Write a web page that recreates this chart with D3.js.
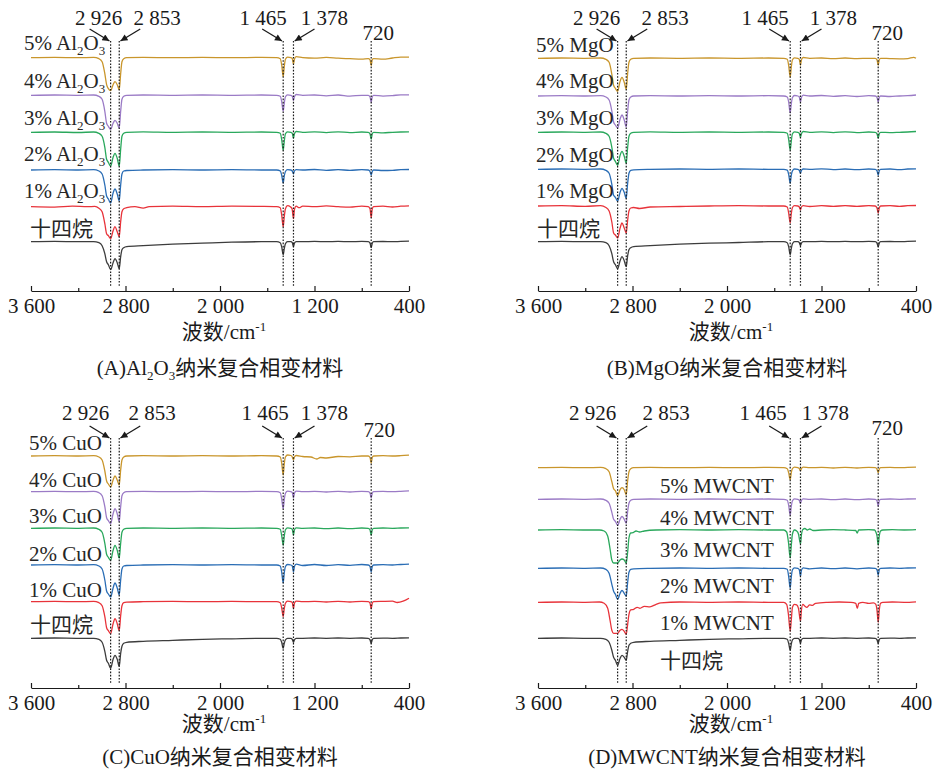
<!DOCTYPE html>
<html><head><meta charset="utf-8">
<script src="https://cdn.jsdelivr.net/npm/d3@7"></script>
<style>body{margin:0;background:#fff}svg{display:block}</style>
</head><body>
<svg id="chart" width="941" height="774"></svg>
<script>
// ---- axis ticks and band markers (wavenumber, cm^-1) ----
const majorTicks = [3600, 2800, 2000, 1200, 400];
const minorTicks = [3200, 2400, 1600, 800];
const tickLabels = ["3 600", "2 800", "2 000", "1 200", "400"];
const bandPositions = [2926, 2853, 1465, 1378, 720];
const bandLabels = ["2 926", "2 853", "1 465", "1 378", "720"];

// ---- sample names ----
const panelTags = ["A", "B", "C", "D"];
const additives = ["Al2O3", "MgO", "CuO", "MWCNT"];
const pureName = "十四烷";
const loadings = ["1%", "2%", "3%", "4%", "5%"];
const captionSuffix = "纳米复合相变材料";
const axisTitle = "波数/cm";

// series order: tetradecane, 1%, 2%, 3%, 4%, 5%
const seriesColors = ["#3d3d3d", "#e8333a", "#2a6db5", "#2aa85c", "#9b7bc6", "#c9962c"];

// ---- stacking offsets of each spectrum (a.u.) ----
const offsetsA = [49.3, 84.3, 121.0, 158.7, 195.7, 233.3];
const offsetsB = [49.3, 85.0, 121.7, 158.7, 195.0, 232.7];
const offsetsC = [49.7, 86.3, 123.0, 159.7, 196.3, 232.0];
const offsetsD = [49.7, 85.7, 119.7, 158.0, 188.7, 220.3];

// ---- spectra: [wavenumber, relative transmittance] ----
// (A) Al2O3 composites
const specA0 = [[3600,0],[3400,0.3],[3200,0],[3070,0],[3025,-1],[2998,-4],[2975,-12],[2960,-20],[2945,-23],[2926,-28],[2905,-21],[2889,-17],[2870,-21],[2853,-27],[2841,-15],[2830,-8],[2815,-6],[2790,-5],[2650,-4],[2400,-2.5],[2150,-1.5],[1900,-0.5],[1650,0],[1520,0],[1490,-1],[1478,-5],[1465,-13],[1456,-7],[1446,-2],[1428,0],[1400,0],[1388,-1],[1378,-5],[1370,-1.5],[1355,0],[1300,0],[1200,0.3],[1100,0],[1000,0.3],[900,0],[800,0.3],[745,0],[730,-1.5],[720,-6],[711,-1.5],[700,0],[620,0.2],[540,0],[470,0.3],[400,0.5]];
const specA1 = [[3600,0],[3400,-0.4],[3250,0.5],[3120,0],[3060,0.3],[3025,-1.5],[2998,-5],[2975,-17],[2960,-27],[2945,-29],[2926,-32],[2905,-24],[2889,-20],[2870,-25],[2853,-30],[2841,-15],[2830,-5],[2815,-2],[2790,-1],[2720,0],[2650,-1.5],[2600,0],[2400,0.5],[2150,0],[1900,0.5],[1650,0.3],[1520,0],[1490,-1],[1478,-8],[1465,-20],[1456,-10],[1446,-2],[1428,1],[1405,0],[1390,-2],[1378,-12],[1370,-3],[1355,0.5],[1330,-1],[1300,0.5],[1200,0],[1100,0.8],[1000,0],[900,-0.5],[800,0.5],[745,0],[730,-2],[720,-11],[711,-2],[700,0],[620,0.5],[540,-0.3],[470,0.5],[400,0.8]];
const specA2 = [[3600,0],[3400,0.3],[3200,0],[3070,0.3],[3025,-1],[2998,-4],[2975,-15],[2960,-26],[2945,-29],[2926,-33],[2905,-23],[2889,-19],[2870,-24],[2853,-31],[2841,-15],[2830,-4],[2815,-1],[2790,-0.5],[2650,0],[2400,0.3],[2150,0],[1900,0.3],[1650,0],[1520,0],[1490,-0.8],[1478,-5],[1465,-13],[1456,-6],[1446,-1.5],[1428,0.3],[1400,0],[1388,-1],[1378,-4],[1370,-1],[1355,0.3],[1300,0],[1200,0.5],[1100,-0.3],[1000,0.3],[900,-0.3],[800,0.3],[745,0],[730,-1.5],[720,-5],[711,-1.5],[700,0],[620,-0.5],[540,-0.3],[470,0.3],[400,0.5]];
const specA3 = [[3600,0],[3400,0.3],[3200,-0.2],[3070,0.3],[3025,-1],[2998,-4],[2975,-15],[2960,-27],[2945,-30],[2926,-34],[2905,-25],[2889,-21],[2870,-26],[2853,-34],[2841,-17],[2830,-4],[2815,-1],[2790,0],[2650,0.5],[2400,0],[2150,0.3],[1900,0],[1650,0.3],[1520,0],[1490,-1],[1478,-7],[1465,-18],[1456,-9],[1446,-1.5],[1428,0.5],[1400,0],[1388,-1],[1378,-6],[1370,-1.5],[1355,0.8],[1300,0],[1200,0.5],[1100,-0.3],[1000,0.5],[900,-0.3],[800,0.3],[745,0],[730,-1.5],[720,-7],[711,-1.5],[700,0],[620,-0.5],[540,0],[470,0.3],[400,0.5]];
const specA4 = [[3600,0],[3400,0.3],[3200,0],[3070,0.3],[3025,-1],[2998,-4],[2975,-16],[2960,-28],[2945,-31],[2926,-34],[2905,-28],[2889,-25],[2870,-28],[2853,-33],[2841,-16],[2830,-4],[2815,-1],[2790,0],[2650,0.3],[2400,0],[2150,0.3],[1900,0],[1650,0.3],[1520,0],[1490,-1],[1478,-6],[1465,-16],[1456,-8],[1446,-1.5],[1428,0.5],[1400,0],[1388,-1],[1378,-5],[1370,-1.5],[1355,0.8],[1300,0],[1200,0.3],[1100,-0.5],[1000,0.3],[900,-0.8],[800,0],[745,0],[730,-1.5],[720,-7],[711,-1.5],[700,0],[620,-0.8],[540,-0.3],[470,0.5],[400,0.5]];
const specA5 = [[3600,0],[3400,0.3],[3200,0],[3070,0.3],[3025,-1],[2998,-4],[2975,-16],[2960,-27],[2945,-31],[2926,-33],[2905,-27],[2889,-24],[2870,-27],[2853,-32],[2841,-16],[2830,-4],[2815,-1],[2790,0],[2650,0.3],[2400,0],[2150,0.3],[1900,0],[1650,0.3],[1520,0],[1490,-1],[1478,-7],[1465,-19],[1456,-9],[1446,-1.5],[1428,0.5],[1400,0],[1388,-1],[1378,-6.5],[1370,-1.5],[1355,1],[1300,0],[1200,-0.5],[1100,0.3],[1000,-0.5],[900,-1],[800,-1.5],[745,-1],[730,-2],[720,-8],[711,-2],[700,-1],[620,-1.5],[540,-0.3],[470,0.5],[400,0.5]];

// (B) MgO composites
const specB0 = [[3600,0],[3400,0.3],[3200,0],[3070,0],[3025,-1],[2998,-4],[2975,-12],[2960,-20],[2945,-23],[2926,-27],[2905,-19],[2889,-15],[2870,-19],[2853,-25],[2841,-14],[2830,-8],[2815,-6],[2790,-5],[2650,-4],[2400,-2.5],[2150,-1.5],[1900,-0.8],[1650,0],[1520,0],[1490,-1],[1478,-5],[1465,-13],[1456,-7],[1446,-2],[1428,0],[1400,0],[1388,-1],[1378,-4],[1370,-1.5],[1355,0],[1300,0],[1200,0.3],[1100,0],[1000,0.3],[900,0],[800,0.3],[745,0],[730,-1.5],[720,-5],[711,-1.5],[700,0],[620,0.2],[540,0],[470,0.3],[400,0.5]];
const specB1 = [[3600,0],[3400,0.3],[3200,-0.3],[3070,0.3],[3025,-1.5],[2998,-5],[2975,-16],[2960,-27],[2945,-29],[2926,-32],[2905,-22],[2889,-17],[2870,-22],[2853,-27],[2841,-14],[2830,-5],[2815,-2],[2790,-1.5],[2740,-2.5],[2650,-1],[2400,-0.5],[2150,0],[1900,0.3],[1650,0],[1520,0],[1490,-1],[1478,-7],[1465,-17],[1456,-8],[1446,-1.5],[1428,0.3],[1400,0],[1388,-1],[1378,-4],[1370,-1],[1355,0.3],[1300,-0.5],[1200,0.3],[1100,-0.3],[1000,0.3],[900,-0.3],[800,0.3],[745,0],[730,-2],[720,-7],[711,-2],[700,0],[620,0.3],[540,-0.3],[470,0.3],[400,0.5]];
const specB2 = [[3600,0],[3400,0.3],[3200,0],[3070,0.3],[3025,-1],[2998,-4],[2975,-15],[2960,-26],[2945,-28],[2926,-32],[2905,-23],[2889,-19],[2870,-23],[2853,-29],[2841,-14],[2830,-4],[2815,-1],[2790,-0.5],[2650,0],[2400,0.3],[2150,0],[1900,0.3],[1650,0],[1520,0],[1490,-0.8],[1478,-5],[1465,-14],[1456,-6],[1446,-1.5],[1428,0.3],[1400,0],[1388,-1],[1378,-4],[1370,-1],[1355,0.3],[1300,0],[1200,0.5],[1100,-0.3],[1000,0.3],[900,-0.3],[800,0.3],[745,0],[730,-1.5],[720,-6],[711,-1.5],[700,0],[620,0.3],[540,-0.3],[470,0.3],[400,0.5]];
const specB3 = [[3600,0],[3400,0.3],[3200,0],[3070,0.3],[3025,-1],[2998,-4],[2975,-15],[2960,-26],[2945,-29],[2926,-33],[2905,-23],[2889,-19],[2870,-24],[2853,-31],[2841,-15],[2830,-4],[2815,-1],[2790,0],[2650,0.5],[2400,0],[2150,0.3],[1900,0],[1650,0.3],[1520,0],[1490,-1],[1478,-7],[1465,-18],[1456,-9],[1446,-1.5],[1428,0.5],[1400,0],[1388,-1],[1378,-5],[1370,-1.5],[1355,0.8],[1300,0],[1200,0.5],[1100,-0.3],[1000,0.5],[900,-0.3],[800,0.3],[745,0],[730,-1.5],[720,-6],[711,-1.5],[700,0],[620,-0.3],[540,0],[470,0.3],[400,0.8]];
const specB4 = [[3600,0],[3400,0.3],[3200,0],[3070,0.3],[3025,-1],[2998,-4],[2975,-15],[2960,-26],[2945,-29],[2926,-32],[2905,-23],[2889,-19],[2870,-24],[2853,-31],[2841,-15],[2830,-4],[2815,-1],[2790,0],[2650,0.3],[2400,0],[2150,0.3],[1900,0],[1650,0.3],[1520,0],[1490,-1],[1478,-6],[1465,-17],[1456,-8],[1446,-1.5],[1428,0.5],[1400,0],[1388,-1],[1378,-6],[1370,-1.5],[1355,0.8],[1300,0],[1200,0.5],[1100,-0.3],[1000,0.3],[900,-0.5],[800,0.3],[745,0],[730,-1.5],[720,-6],[711,-1.5],[700,0],[620,-0.5],[540,0],[470,0.3],[400,1]];
const specB5 = [[3600,0],[3400,0.3],[3200,0],[3070,0.3],[3025,-1],[2998,-4],[2975,-16],[2960,-27],[2945,-30],[2926,-33],[2905,-23],[2889,-19],[2870,-24],[2853,-31],[2841,-15],[2830,-4],[2815,-1],[2790,0],[2650,0.3],[2400,0],[2150,0.3],[1900,0],[1650,0.3],[1520,0],[1490,-1],[1478,-7],[1465,-19],[1456,-9],[1446,-1.5],[1428,0.5],[1400,0],[1388,-1],[1378,-7],[1370,-1.5],[1355,0.8],[1300,0],[1200,0.3],[1100,-0.3],[1000,0.3],[900,-0.3],[800,0],[745,0],[730,-1.5],[720,-7],[711,-1.5],[700,0],[620,-0.3],[540,-0.5],[470,-0.3],[420,1],[400,0]];

// (C) CuO composites
const specC0 = [[3600,0],[3400,0.3],[3200,0],[3070,0],[3025,-1],[2998,-4],[2975,-13],[2960,-22],[2945,-25],[2926,-30],[2905,-21],[2889,-17],[2870,-21],[2853,-28],[2841,-15],[2830,-8],[2815,-5],[2790,-4],[2650,-3],[2400,-2],[2150,-1],[1900,-0.5],[1650,0],[1520,0],[1490,-1],[1478,-4],[1465,-10],[1456,-5],[1446,-1.5],[1428,0],[1400,0],[1388,-1],[1378,-4],[1370,-1.5],[1355,0],[1300,0],[1200,0.3],[1100,0],[1000,0.3],[900,0],[800,0.3],[745,0],[730,-1.5],[720,-5],[711,-1.5],[700,0],[620,0.2],[540,0],[470,0.3],[400,0.5]];
const specC1 = [[3600,0],[3400,0.3],[3200,0],[3070,0.3],[3025,-1],[2998,-4],[2975,-15],[2960,-26],[2945,-29],[2926,-32],[2905,-22],[2889,-17],[2870,-22],[2853,-29],[2841,-14],[2830,-4],[2815,-1],[2790,-0.5],[2650,0],[2400,0.3],[2150,0],[1900,0.3],[1650,0],[1520,0],[1490,-1],[1478,-6],[1465,-15],[1456,-7],[1446,-1.5],[1428,0.5],[1400,0],[1388,-1],[1378,-7],[1370,-1.5],[1355,0.5],[1300,0],[1200,0.3],[1100,-0.3],[1000,0.3],[900,-0.3],[800,0.3],[745,0],[730,-1.5],[720,-7],[711,-1.5],[700,0],[620,0.3],[540,0.5],[500,-0.8],[450,0.5],[400,3.5]];
const specC2 = [[3600,0],[3400,0.3],[3200,0],[3070,0.3],[3025,-1],[2998,-4],[2975,-15],[2960,-26],[2945,-29],[2926,-32],[2905,-23],[2889,-18],[2870,-23],[2853,-30],[2841,-15],[2830,-4],[2815,-1],[2790,-0.5],[2650,0],[2400,0.3],[2150,0],[1900,0.3],[1650,0],[1520,0],[1490,-1],[1478,-7],[1465,-18],[1456,-8],[1446,-1.5],[1428,0.5],[1400,0],[1388,-1],[1378,-7],[1370,-1.5],[1355,0.8],[1300,-0.5],[1200,0.5],[1100,-0.5],[1000,0.3],[900,-0.3],[800,0.5],[745,0],[730,-1.5],[720,-7],[711,-1.5],[700,0],[620,0.3],[540,0],[470,0.5],[400,0.8]];
const specC3 = [[3600,0],[3400,0.3],[3200,0],[3070,0.3],[3025,-1],[2998,-4],[2975,-15],[2960,-26],[2945,-29],[2926,-32],[2905,-22],[2889,-17],[2870,-22],[2853,-30],[2841,-15],[2830,-4],[2815,-1],[2790,0],[2650,0.3],[2400,0],[2150,0.3],[1900,0],[1650,0.3],[1520,0],[1490,-1],[1478,-7],[1465,-17],[1456,-8],[1446,-1.5],[1428,0.5],[1400,0],[1388,-1],[1378,-7],[1370,-1.5],[1355,0.5],[1300,0],[1200,0.3],[1100,-0.3],[1000,0.3],[900,-0.3],[800,0.3],[745,0],[730,-1.5],[720,-7],[711,-1.5],[700,0],[620,0.3],[540,0],[470,0.3],[400,0.5]];
const specC4 = [[3600,0],[3400,0.3],[3200,0],[3070,0.3],[3025,-1],[2998,-4],[2975,-15],[2960,-26],[2945,-29],[2926,-32],[2905,-22],[2889,-17],[2870,-22],[2853,-30],[2841,-15],[2830,-4],[2815,-1],[2790,0],[2650,0.3],[2400,0],[2150,0.3],[1900,0],[1650,0.3],[1520,0],[1490,-1],[1478,-7],[1465,-17],[1456,-8],[1446,-1.5],[1428,0.5],[1400,0],[1388,-1],[1378,-6],[1370,-1.5],[1355,0.5],[1300,0],[1200,0.3],[1100,-0.3],[1000,0.3],[900,-0.3],[800,0.3],[745,0],[730,-1.5],[720,-6],[711,-1.5],[700,0],[620,0.3],[540,0],[470,0.3],[400,0.8]];
const specC5 = [[3600,0],[3400,0.3],[3200,0],[3070,0.3],[3025,-1],[2998,-4],[2975,-15],[2960,-25],[2945,-28],[2926,-31],[2905,-24],[2889,-20],[2870,-24],[2853,-29],[2841,-14],[2830,-4],[2815,-1],[2790,0],[2650,0.3],[2400,0],[2150,0.3],[1900,0],[1650,0.3],[1520,0],[1490,-1],[1478,-7],[1465,-19],[1456,-8],[1446,-1],[1428,1],[1400,0.5],[1388,-1],[1378,-4],[1370,-1],[1355,0.5],[1300,-0.5],[1230,-1],[1181,-3],[1150,-1.5],[1100,-2],[1000,-0.5],[900,-0.8],[800,0],[745,0],[730,-1.5],[720,-7],[711,-1.5],[700,0],[620,0.3],[540,0],[470,0.3],[400,0.8]];

// (D) MWCNT composites
const specD0 = [[3600,0],[3400,0.3],[3200,0],[3070,0],[3025,-1],[2998,-4],[2975,-12],[2960,-19],[2945,-22],[2926,-27],[2905,-20],[2889,-17],[2870,-19],[2853,-22],[2841,-13],[2830,-7],[2815,-5],[2790,-4],[2650,-3],[2400,-2],[2150,-1],[1900,-0.5],[1650,0],[1520,0],[1490,-1],[1478,-5],[1465,-12],[1456,-6],[1446,-1.5],[1428,0],[1400,0],[1388,-1],[1378,-5],[1370,-1.5],[1355,0],[1300,0],[1200,0.3],[1100,0],[1000,0.3],[900,0],[800,0.3],[745,0],[730,-1.5],[720,-5],[711,-1.5],[700,0],[620,0.2],[540,0],[470,0.3],[400,0.5]];
const specD1 = [[3600,0],[3400,0.3],[3200,0],[3080,0.3],[3040,-1],[3010,-6],[2990,-18],[2975,-28],[2960,-31],[2945,-31],[2926,-31],[2905,-28],[2889,-27],[2870,-29],[2853,-32],[2841,-22],[2830,-12],[2815,-7.5],[2790,-7],[2760,-5],[2737,-6],[2700,-4],[2652,-4.5],[2600,-2],[2560,-0.5],[2400,0.3],[2150,0],[1900,0.3],[1650,0],[1520,0],[1495,-2],[1480,-12],[1465,-29],[1456,-18],[1446,-5],[1430,-2],[1410,-2.5],[1395,-6],[1378,-19],[1370,-8],[1358,-2],[1340,-4],[1325,-5],[1300,-2.5],[1277,-3],[1250,-1],[1150,0],[1050,0.3],[950,0],[910,-1],[897,-6],[885,-1],[850,0],[800,-1],[760,-0.5],[740,-2],[730,-8],[720,-20],[711,-8],[700,-1],[680,0],[600,0.3],[500,0],[400,0.5]];
const specD2 = [[3600,0],[3400,0.3],[3200,0],[3070,0.3],[3025,-1],[2998,-5],[2975,-16],[2960,-23],[2945,-26],[2926,-31],[2905,-25],[2889,-22],[2870,-25],[2853,-28],[2841,-14],[2830,-4],[2815,-1],[2790,-0.5],[2650,0],[2400,0.3],[2150,0],[1900,0.3],[1650,0],[1520,0],[1490,-1],[1478,-8],[1465,-20],[1456,-9],[1446,-1.5],[1428,0.5],[1400,0],[1388,-1.5],[1378,-8],[1370,-2],[1355,0.5],[1300,-0.5],[1200,0.3],[1100,-0.3],[1000,0.3],[900,-0.5],[800,0.3],[745,0],[730,-1.5],[720,-7],[711,-1.5],[700,0],[620,0.3],[540,0],[470,0.3],[400,0.5]];
const specD3 = [[3600,0],[3400,0.3],[3200,0],[3080,0],[3040,-1],[3010,-6],[2990,-19],[2975,-30],[2960,-33],[2945,-33],[2926,-33],[2905,-30],[2889,-29],[2870,-30],[2853,-33],[2841,-22],[2830,-8],[2815,-3],[2795,-2.7],[2770,-1],[2740,-2],[2700,-1],[2600,0],[2400,0.3],[2150,0],[1900,0.3],[1650,0],[1520,0],[1495,-2],[1480,-12],[1465,-28],[1456,-16],[1446,-4],[1430,0],[1410,-1],[1395,-4],[1378,-14],[1370,-5],[1358,0.5],[1340,1.5],[1320,0],[1300,1],[1270,-0.5],[1200,0],[1100,0.3],[1000,0],[910,-0.5],[898,-3],[885,0],[800,0.3],[750,0],[740,-2],[730,-6],[720,-15],[711,-6],[700,-1],[680,0],[600,0.3],[500,0],[400,0.3]];
const specD4 = [[3600,0],[3400,0.3],[3200,0],[3070,0.3],[3025,-1],[2998,-4],[2975,-13],[2960,-20],[2945,-22],[2926,-26],[2905,-20],[2889,-17],[2870,-20],[2853,-24],[2841,-12],[2830,-4],[2815,-1],[2790,0],[2650,0.3],[2400,0],[2150,0.3],[1900,0],[1650,0.3],[1520,0],[1490,-1],[1478,-6],[1465,-16],[1456,-7],[1446,-1.5],[1428,0.5],[1400,0],[1388,-1],[1378,-4],[1370,-1],[1355,0.5],[1300,0],[1200,0.3],[1100,-0.3],[1000,0.3],[900,-0.3],[800,0.3],[745,0],[730,-1.5],[720,-7],[711,-1.5],[700,0],[620,0.3],[540,0],[470,0.3],[400,0.5]];
const specD5 = [[3600,0],[3400,0.3],[3200,0],[3070,0.3],[3025,-1],[2998,-4],[2975,-14],[2960,-21],[2945,-23],[2926,-28],[2905,-22],[2889,-20],[2870,-22],[2853,-27],[2841,-13],[2830,-4],[2815,-1],[2790,0],[2650,0.3],[2400,0],[2150,0.3],[1900,0],[1650,0.3],[1520,0],[1490,-1],[1478,-5],[1465,-12],[1456,-5],[1446,-1],[1428,0.5],[1400,0],[1388,-1],[1378,-3],[1370,-1],[1355,0.5],[1300,0],[1200,0.3],[1100,-0.3],[1000,0.3],[900,-0.3],[800,0.3],[745,0],[730,-1.5],[720,-5],[711,-1.5],[700,0],[620,0.3],[540,0],[470,0.3],[400,0.5]];

const panelSpectra = [
  [specA0, specA1, specA2, specA3, specA4, specA5],
  [specB0, specB1, specB2, specB3, specB4, specB5],
  [specC0, specC1, specC2, specC3, specC4, specC5],
  [specD0, specD1, specD2, specD3, specD4, specD5]
];
const panelOffsets = [offsetsA, offsetsB, offsetsC, offsetsD];

// ---- page layout of the four panels ----
const layout = [
  {x0: 31, x1: 409, axisY: 291, nameX: 24, pureX: 30,
   nameY: [236, 198, 160.5, 125, 87.5, 50],
   bandDx: [-12, 38, -20, 31, 7], titleY: 339, captionY: 375, labelRise: 16, lowLabelRise: 1},
  {x0: 538, x1: 916, axisY: 291, nameX: 536, pureX: 537,
   nameY: [236, 198.3, 161.7, 125, 88.3, 51.7],
   bandDx: [-21, 39, -25, 33, 9], titleY: 339, captionY: 375, labelRise: 16, lowLabelRise: 1},
  {x0: 31, x1: 409, axisY: 688, nameX: 29, pureX: 30,
   nameY: [632, 597, 560.7, 523, 487, 450],
   bandDx: [-25, 33, -18, 31, 8], titleY: 731, captionY: 764, labelRise: 18, lowLabelRise: 1},
  {x0: 538, x1: 916, axisY: 688, nameX: 660, pureX: 660,
   nameY: [668, 630, 593, 556.7, 525, 493],
   bandDx: [-25, 40, -27, 25, 9], titleY: 731, captionY: 764, labelRise: 18, lowLabelRise: 3}
];

const FONT = "'Liberation Serif','Times New Roman','Noto Sans CJK SC',serif";
const INK = "#1a1a1a";
const svg = d3.select("#chart");

svg.append("defs").append("marker")
  .attr("id", "arrowhead").attr("viewBox", "0 0 10 10")
  .attr("refX", 10).attr("refY", 5)
  .attr("markerWidth", 9).attr("markerHeight", 7)
  .attr("markerUnits", "userSpaceOnUse").attr("orient", "auto")
  .append("path").attr("d", "M0,0 L10,5 L0,10 z").attr("fill", INK);

// writes a chemical formula such as Al2O3 with its digits lowered;
// returns true when the text ends in the lowered position
function addFormula(textSel, str, size) {
  const parts = str.match(/[0-9]+|[^0-9]+/g);
  let lowered = false;
  parts.forEach(p => {
    const isSub = /^[0-9]+$/.test(p);
    const t = textSel.append("tspan").text(p);
    if (isSub) { t.attr("font-size", size * 0.62).attr("dy", lowered ? 0 : 5); lowered = true; }
    else if (lowered) { t.attr("dy", -5); lowered = false; }
  });
  return lowered;
}

panelTags.forEach((tag, pi) => {
  const L = layout[pi];
  const x = d3.scaleLinear().domain([3600, 400]).range([L.x0, L.x1]);
  const y = d3.scaleLinear().domain([0, 250]).range([L.axisY, L.axisY - 250]);
  const g = svg.append("g").attr("class", "panel-" + tag);
  const offsets = panelOffsets[pi];

  // spectra
  panelSpectra[pi].forEach((spec, si) => {
    const line = d3.line()
      .x(d => x(d[0]))
      .y(d => y(offsets[si] + d[1]))
      .curve(d3.curveMonotoneX);
    g.append("path").attr("d", line(spec))
      .attr("fill", "none").attr("stroke", seriesColors[si])
      .attr("stroke-width", 1.3).attr("stroke-linejoin", "round");
  });

  // dotted band markers
  const top = y(250);
  bandPositions.forEach(b => {
    g.append("line")
      .attr("x1", x(b)).attr("x2", x(b))
      .attr("y1", top).attr("y2", L.axisY - 4)
      .attr("stroke", INK).attr("stroke-width", 1.2)
      .attr("stroke-dasharray", "1.6,1.6");
  });

  // band labels with arrows
  bandPositions.forEach((b, bi) => {
    const px = x(b);
    const isLow = bi === 4;
    g.append("text")
      .attr("x", px + L.bandDx[bi])
      .attr("y", top - (isLow ? L.lowLabelRise : L.labelRise))
      .attr("text-anchor", "middle")
      .attr("font-family", FONT).attr("font-size", 21).attr("fill", INK)
      .text(bandLabels[bi]);
    if (!isLow) {
      const side = (bi % 2 === 0) ? -1 : 1;
      g.append("line")
        .attr("x1", px + side * 21).attr("y1", top - 12)
        .attr("x2", px + side * 1.2).attr("y2", top)
        .attr("stroke", INK).attr("stroke-width", 1.3)
        .attr("marker-end", "url(#arrowhead)");
    }
  });

  // x axis
  const axisG = g.append("g").attr("transform", `translate(0,${L.axisY})`);
  axisG.call(d3.axisBottom(x).tickValues(majorTicks).tickSize(-5).tickSizeOuter(0)
      .tickPadding(7).tickFormat((d, i) => tickLabels[i]));
  axisG.append("g").call(d3.axisBottom(x).tickValues(minorTicks).tickSize(-3)
      .tickSizeOuter(0).tickFormat(""))
    .select(".domain").remove();
  axisG.selectAll("path, line").attr("stroke", INK).attr("stroke-width", 1.2);
  axisG.selectAll("text").attr("font-family", FONT).attr("font-size", 21).attr("fill", INK);

  // series names
  [pureName].concat(loadings).forEach((nm, si) => {
    const t = g.append("text")
      .attr("x", si === 0 ? L.pureX : L.nameX).attr("y", L.nameY[si])
      .attr("font-family", FONT).attr("font-size", 21).attr("fill", "#262626");
    if (si === 0) { t.text(nm); return; }
    t.append("tspan").text(nm + " ");
    addFormula(t, additives[pi], 21);
  });

  // axis title
  const cx = (L.x0 + L.x1) / 2 + 4;
  const title = g.append("text").attr("x", cx).attr("y", L.titleY)
    .attr("text-anchor", "middle").attr("font-family", FONT)
    .attr("font-size", 21).attr("fill", INK);
  title.append("tspan").text(axisTitle);
  title.append("tspan").attr("font-size", 13).attr("dy", -8).text("-1");

  // caption
  const cap = g.append("text").attr("x", (L.x0 + L.x1) / 2).attr("y", L.captionY)
    .attr("text-anchor", "middle").attr("font-family", FONT)
    .attr("font-size", 21).attr("fill", INK);
  cap.append("tspan").text("(" + tag + ")");
  const low = addFormula(cap, additives[pi], 21);
  cap.append("tspan").attr("dy", low ? -5 : 0).text(captionSuffix);
});
</script>
</body></html>
